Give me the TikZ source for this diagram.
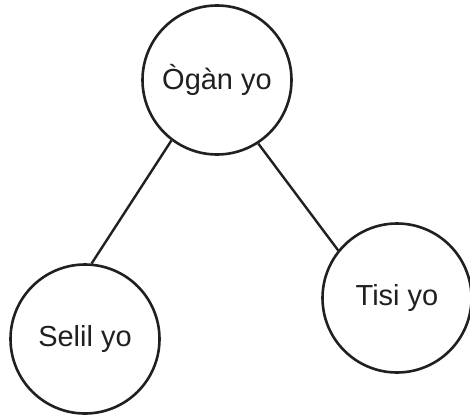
\documentclass[tikz,border=0pt]{standalone}
\usepackage{fontspec}
\setmainfont{Liberation Sans}
\definecolor{ink}{HTML}{231F20}
\begin{document}
\begin{tikzpicture}[x=1pt,y=-1pt,
  bubble/.style={draw=ink,circle,line width=2.6pt,inner sep=0pt,minimum size=149pt,
    font=\fontsize{29}{34}\selectfont,text=ink},
  link/.style={draw=ink,line width=2.4pt}]
\useasboundingbox (0,0) rectangle (470,417);
\node[bubble] (top) at (217,80) {Ògàn yo};
\node[bubble] (left) at (85,339) {Selil yo};
\node[bubble] (right) at (397,298) {Tisi yo};
\draw[link] (top.233) -- (left.85);
\draw[link] (top.303) -- (right.141);
\end{tikzpicture}
\end{document}
